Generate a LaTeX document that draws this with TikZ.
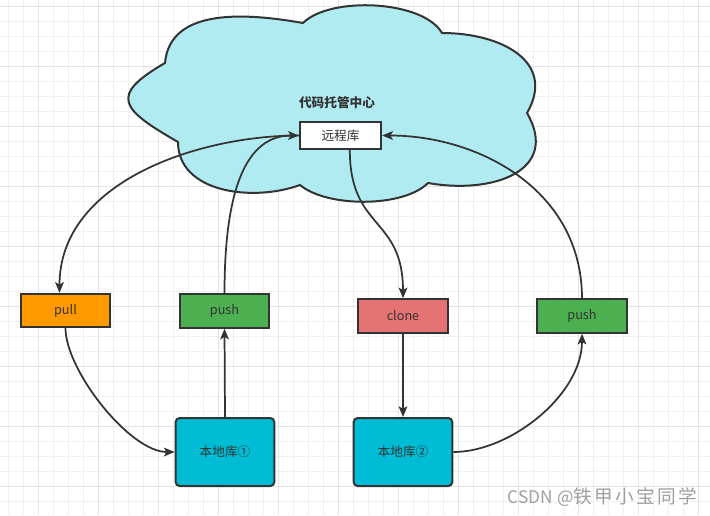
\documentclass[tikz,border=0pt]{standalone}
\usepackage{fontspec}
\setmainfont{Noto Sans CJK SC}
\usetikzlibrary{arrows.meta}
\definecolor{linecol}{HTML}{333333}
\definecolor{cloudcol}{HTML}{B0EBF2}
\definecolor{pullcol}{HTML}{FF9900}
\definecolor{pushcol}{HTML}{4CAF50}
\definecolor{clonecol}{HTML}{E57373}
\definecolor{localcol}{HTML}{00BCD4}
\definecolor{gridminor}{HTML}{F0F0F0}
\definecolor{gridmajor}{HTML}{E3E3E3}
\definecolor{markcol}{HTML}{A0A0A0}

\begin{document}
\begin{tikzpicture}[x=0.75pt, y=0.75pt,
    box/.style={draw=linecol, line width=1.5pt, minimum width=67pt, minimum height=25pt,
        text=linecol, font=\fontsize{9.5}{11}\selectfont},
    localbox/.style={box, fill=localcol, rounded corners=3pt, minimum width=74pt, minimum height=51pt},
    link/.style={draw=linecol, line width=1.3pt, -{Stealth[length=8pt,width=6.5pt,inset=1.8pt]}}]
		\useasboundingbox (0,0) rectangle (710,-515);
		\fill[white] (0,0) rectangle (710,-515);
		% grid
		\foreach \gx in {8,23,...,698}
			\draw[gridminor, line width=0.75pt] (\gx,0) -- (\gx,-515);
		\foreach \gy in {21,36,...,501}
			\draw[gridminor, line width=0.75pt] (0,-\gy) -- (710,-\gy);
		\foreach \gx in {38,98,...,698}
			\draw[gridmajor, line width=0.75pt] (\gx,0) -- (\gx,-515);
		\foreach \gy in {6,66,...,486}
			\draw[gridmajor, line width=0.75pt] (0,-\gy) -- (710,-\gy);
		% cloud
		\draw[draw=linecol, fill=cloudcol, line width=1.5pt]
		(165,-63) to[out=85,in=170] (303,-23)
		to[out=45,in=120,looseness=0.7] (442,-33)
		to[out=0,in=60,looseness=1.3] (527,-113)
		to[out=-60,in=-10,looseness=1.4] (428,-183)
		to[out=-135,in=-40,looseness=0.7] (300,-185)
		to[out=-160,in=-90] (178,-142)
		to[out=150,in=-150,looseness=2.1] cycle;
		\node[text=linecol, font=\fontsize{9.5}{11}\selectfont\bfseries] (hub) at (337,-103) {代码托管中心};
		\node[box, fill=white, minimum width=61pt, minimum height=20.5pt] (remote) at (340.5,-135.5) {远程库};
		% boxes
		\node[box, fill=pullcol] (pull) at (65.5,-310.5) {pull};
		\node[box, fill=pushcol] (pushA) at (224.5,-311) {push};
		\node[box, fill=clonecol] (clone) at (403,-316) {clone};
		\node[box, fill=pushcol] (pushB) at (582,-316) {push};
		\node[localbox] (localA) at (225,-452) {本地库①};
		\node[localbox] (localB) at (403,-452) {本地库②};
		% connectors
		\draw[link] (remote.west) .. controls +(-99,0) and +(0,112) .. ([xshift=-4.5pt]pull.north);
		\draw[link] (pushA.north) .. controls +(0,85) and +(-60,0) .. (remote.west);
		\draw[link] ([xshift=7pt]remote.south) .. controls +(0,-80) and +(0,82) .. (clone.north);
		\draw[link] (pushB.north) .. controls +(0,108) and +(97,0) .. (remote.east);
		\draw[link] (pull.south) .. controls +(0,-42) and +(-45,0) .. (localA.west);
		\draw[link] (localA.north) -- (pushA.south);
		\draw[link] (clone.south) -- (localB.north);
		\draw[link] (localB.east) .. controls +(57,0) and +(0,-61) .. (pushB.south);
		\node[anchor=east, text=markcol, inner sep=0pt] (wm) at (697,-497)
		{\fontsize{13}{15}\selectfont CSDN @\fontsize{14}{16}\selectfont\addfontfeature{LetterSpace=12}铁甲小宝同学};
\end{tikzpicture}
\end{document}
